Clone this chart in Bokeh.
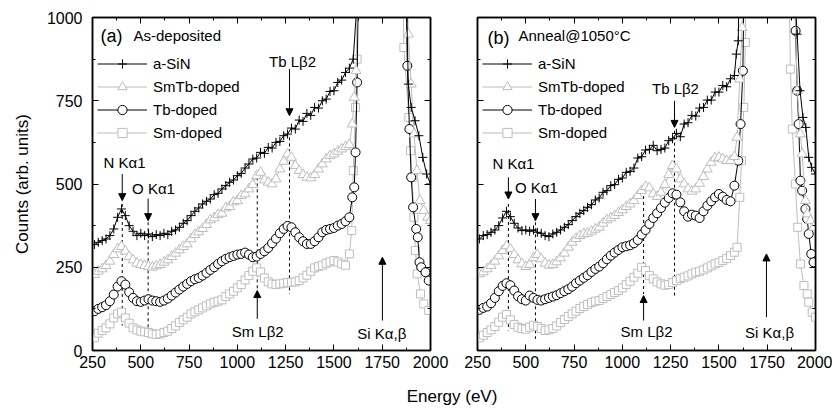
from bokeh.plotting import figure
from bokeh.models import (Range1d, FixedTicker, LinearAxis, CustomJSTickFormatter, Legend,
                          LegendItem, Arrow, NormalHead, ColumnDataSource, Div)
from bokeh.layouts import row, column
from bokeh.core.properties import value
from bokeh.embed import file_html
from bokeh.resources import INLINE

FONT = "Liberation Sans"
GRAY = "#bdbdbd"

# ---------------- data ----------------
energy = [260, 280, 300, 320, 340, 360, 380, 400, 420, 440,
          460, 480, 500, 520, 540, 560, 580, 600, 620, 640,
          660, 680, 700, 720, 740, 760, 780, 800, 820, 840,
          860, 880, 900, 920, 940, 960, 980, 1000, 1020, 1040,
          1060, 1080, 1100, 1120, 1140, 1160, 1180, 1200, 1220, 1240,
          1260, 1280, 1300, 1320, 1340, 1360, 1380, 1400, 1420, 1440,
          1460, 1480, 1500, 1520, 1540, 1560, 1580]

# Panel (a) As-deposited
a_sin = [318, 325, 330, 335, 345, 365, 400, 425, 405, 375,
         358, 345, 352, 345, 350, 342, 348, 345, 352, 348,
         358, 362, 370, 382, 390, 405, 418, 428, 440, 448,
         455, 468, 472, 485, 495, 505, 512, 525, 532, 548,
         560, 575, 578, 595, 592, 610, 608, 625, 628, 645,
         650, 668, 665, 692, 688, 712, 706, 730, 728, 750,
         755, 778, 780, 805, 812, 835, 848]
a_sin_edge_e = [1600, 1620, 1740, 1878, 1885, 1900, 1920, 1940, 1960, 1980, 2000]
a_sin_edge_c = [875, 1050, 6000, 1000, 800, 730, 690, 645, 580, 530, 500]

a_smtb = [228, 238, 245, 255, 268, 288, 305, 312, 298, 282,
          272, 262, 258, 255, 252, 250, 254, 258, 265, 272,
          282, 292, 302, 312, 320, 335, 348, 356, 366, 378,
          392, 398, 408, 412, 428, 432, 446, 450, 465, 470,
          485, 498, 525, 535, 512, 505, 500, 515, 545, 568,
          590, 580, 555, 540, 528, 520, 518, 528, 545, 560,
          575, 585, 590, 598, 605, 612, 618]
a_smtb_edge_e = [1595, 1605, 1615, 1740, 1885, 1900, 1915, 1930, 1945, 1965, 1985, 2000]
a_smtb_edge_c = [680, 760, 840, 6000, 950, 800, 650, 540, 450, 420, 400, 390]

a_tb = [118, 125, 130, 136, 148, 168, 192, 208, 198, 175,
        158, 148, 146, 150, 154, 150, 148, 146, 150, 156,
        165, 174, 183, 192, 200, 208, 214, 218, 225, 233,
        242, 250, 260, 268, 275, 280, 284, 288, 290, 294,
        288, 280, 282, 290, 298, 308, 322, 336, 352, 365,
        374, 370, 355, 340, 328, 320, 320, 328, 340, 355,
        362, 365, 368, 375, 380, 388, 400]
a_tb_edge_e = [1595, 1605, 1612, 1620, 1740, 1880, 1891, 1900, 1910, 1926, 1934, 1943, 1952, 1974, 1991]
a_tb_edge_c = [460, 490, 595, 805, 6000, 855, 665, 520, 430, 365, 340, 265, 250, 235, 210]

a_sm = [38, 52, 60, 68, 80, 98, 110, 115, 98, 82,
        68, 62, 58, 56, 54, 50, 48, 50, 54, 58,
        66, 74, 84, 92, 100, 110, 116, 122, 128, 134,
        140, 145, 148, 152, 162, 170, 178, 188, 198, 212,
        225, 238, 248, 236, 218, 206, 200, 198, 200, 202,
        204, 205, 206, 210, 218, 226, 238, 248, 252, 256,
        262, 266, 270, 266, 260, 256, 290]
a_sm_edge_e = [1592, 1600, 1612, 1620, 1740, 1862, 1888, 1897, 1905, 1914, 1922, 1931, 1948, 1965, 1991]
a_sm_edge_c = [360, 540, 730, 875, 6000, 910, 700, 600, 520, 400, 300, 230, 170, 140, 120]

# Panel (b) Anneal@1050C
b_sin = [335, 345, 348, 355, 362, 375, 398, 418, 402, 382,
         368, 360, 362, 358, 362, 355, 352, 345, 342, 350,
         355, 362, 370, 378, 390, 402, 412, 420, 430, 438,
         452, 458, 475, 480, 495, 498, 514, 518, 535, 538,
         548, 578, 582, 602, 604, 616, 600, 604, 608, 630,
         636, 652, 642, 680, 684, 706, 704, 728, 730, 752,
         752, 776, 776, 796, 792, 816, 826]
b_sin_edge_e = [1590, 1600, 1740, 1891, 1905, 1920, 1935, 1950, 1965, 1980, 2000]
b_sin_edge_c = [890, 930, 6000, 1100, 950, 780, 700, 670, 580, 550, 530]

b_smtb = [230, 236, 245, 255, 268, 284, 300, 314, 305, 288,
          272, 260, 252, 258, 278, 288, 275, 262, 256, 258,
          266, 278, 292, 310, 325, 336, 345, 350, 352, 358,
          364, 370, 382, 392, 398, 405, 414, 422, 432, 440,
          450, 465, 480, 492, 488, 470, 462, 475, 498, 528,
          555, 545, 515, 500, 485, 478, 485, 502, 522, 545,
          565, 578, 580, 575, 570, 570, 582]
b_smtb_edge_e = [1594, 1608, 1620, 1740, 1896, 1905, 1922, 1931, 1948, 1957, 1974, 1990]
b_smtb_edge_c = [640, 815, 970, 6000, 1027, 780, 650, 590, 450, 410, 390, 370]

b_tb = [122, 128, 132, 142, 158, 178, 194, 202, 196, 180,
        163, 154, 150, 165, 158, 152, 150, 154, 158, 162,
        166, 172, 178, 184, 192, 202, 210, 218, 226, 236,
        245, 252, 262, 274, 285, 294, 302, 310, 313, 316,
        322, 332, 348, 362, 380, 398, 412, 428, 444, 458,
        472, 468, 445, 418, 402, 408, 405, 398, 418, 435,
        448, 460, 470, 462, 452, 448, 495]
b_tb_edge_e = [1600, 1612, 1624, 1740, 1897, 1905, 1913, 1922, 1931, 1948, 1957, 1965, 1978, 1990]
b_tb_edge_c = [570, 680, 840, 6000, 960, 780, 680, 510, 480, 425, 395, 350, 290, 265]

b_sm = [38, 46, 54, 62, 72, 85, 100, 108, 92, 78,
        70, 66, 64, 70, 76, 72, 66, 60, 62, 66,
        74, 84, 93, 102, 110, 118, 126, 132, 138, 144,
        148, 150, 156, 162, 168, 174, 180, 188, 198, 208,
        220, 232, 250, 240, 225, 215, 206, 200, 196, 198,
        204, 210, 216, 220, 224, 230, 235, 238, 242, 248,
        254, 260, 264, 270, 276, 285, 295]
b_sm_edge_e = [1594, 1608, 1617, 1629, 1637, 1740, 1870, 1880, 1896, 1908, 1922, 1940, 1957, 1965, 1983, 2000]
b_sm_edge_c = [310, 460, 570, 730, 925, 6000, 845, 665, 500, 370, 260, 195, 170, 145, 115, 100]

series_labels = ["a-SiN", "SmTb-doped", "Tb-doped", "Sm-doped"]

# annotations (energies in eV, counts)
ann_text = ["N K\u03b11", "O K\u03b11", "Tb L\u03b22", "Sm L\u03b22", "Si K\u03b1,\u03b2"]
a_ann_x = [416, 566, 1286, 1105, 1748]
a_ann_y = [565, 486, 868, 57, 50]
a_arr_x = [404, 538, 1270, 1103, 1751]
a_arr_y0 = [530, 456, 845, 95, 90]
a_arr_y1 = [450, 390, 705, 180, 280]
a_dash_x = [404, 538, 1103, 1270]
a_dash_top = [440, 385, 520, 640]
a_dash_bot = [75, 40, 185, 170]

b_ann_x = [436, 555, 1275, 1125, 1762]
b_ann_y = [562, 490, 788, 57, 54]
b_arr_x = [410, 550, 1270, 1110, 1746]
b_arr_y0 = [520, 455, 750, 90, 100]
b_arr_y1 = [455, 390, 670, 165, 290]
b_dash_x = [410, 550, 1110, 1270]
b_dash_top = [440, 385, 500, 660]
b_dash_bot = [60, 35, 170, 165]

x_ticks = [250, 500, 750, 1000, 1250, 1500, 1750, 2000]
x_minor = [375, 625, 875, 1125, 1375, 1625, 1875]
y_ticks = [0, 250, 500, 750, 1000]
y_minor = [125, 375, 625, 875]


def style_axis(ax, ticks, minor, blank=False):
    ax.ticker = FixedTicker(ticks=ticks, minor_ticks=minor)
    ax.major_tick_in = 6
    ax.major_tick_out = 0
    ax.minor_tick_in = 3
    ax.minor_tick_out = 0
    ax.axis_line_width = 1.5
    ax.axis_line_color = "black"
    ax.major_tick_line_color = "black"
    ax.minor_tick_line_color = "black"
    ax.major_label_text_font = FONT
    ax.major_label_text_font_size = "16px"
    ax.major_label_text_font_style = "normal"
    ax.major_label_text_color = "black"
    if blank:
        ax.formatter = CustomJSTickFormatter(code="return ''")
        ax.major_label_standoff = 0


def make_panel(curves, title_tag, title_text, ann_x, ann_y, arr_x, arr_y0, arr_y1,
               dash_x, dash_top, dash_bot, left_border, right_border, first):
    p = figure(x_range=Range1d(250, 2000), y_range=Range1d(0, 1000),
               frame_width=338, frame_height=333,
               min_border_left=left_border, min_border_right=right_border,
               min_border_top=17, min_border_bottom=30,
               output_backend="svg", toolbar_location=None,
               background_fill_color="white", border_fill_color="white")
    p.xgrid.visible = False
    p.ygrid.visible = False
    p.outline_line_color = "black"
    p.outline_line_width = 1.5

    style_axis(p.xaxis[0], x_ticks, x_minor)
    p.xaxis[0].major_label_standoff = 5
    style_axis(p.yaxis[0], y_ticks, y_minor, blank=not first)
    if first:
        p.yaxis[0].major_label_standoff = 10
        p.yaxis[0].axis_label = "Counts (arb. units)"
        p.yaxis[0].axis_label_text_font = FONT
        p.yaxis[0].axis_label_text_font_size = "17px"
        p.yaxis[0].axis_label_text_font_style = "normal"
        p.yaxis[0].axis_label_text_color = "black"
        p.yaxis[0].axis_label_standoff = 12
    top_ax = LinearAxis()
    style_axis(top_ax, x_ticks, x_minor, blank=True)
    p.add_layout(top_ax, "above")
    right_ax = LinearAxis()
    style_axis(right_ax, y_ticks, y_minor, blank=True)
    p.add_layout(right_ax, "right")

    # dashed guide lines
    p.segment(x0="x", y0="top", x1="x", y1="bot", line_dash="3 3", line_color="black",
              line_width=1,
              source=ColumnDataSource(dict(x=dash_x, top=dash_top, bot=dash_bot)))

    styles = {
        "a-SiN": dict(marker="cross", size=9, color="black"),
        "SmTb-doped": dict(marker="triangle", size=10, color=GRAY),
        "Tb-doped": dict(marker="circle", size=9, color="black"),
        "Sm-doped": dict(marker="square", size=8, color=GRAY),
    }
    items = {}
    for label in ["Sm-doped", "Tb-doped", "SmTb-doped", "a-SiN"]:
        xs, ys = curves[label]
        st = styles[label]
        src = ColumnDataSource(dict(x=xs, y=ys))
        rl = p.line("x", "y", source=src, line_color=st["color"], line_width=1)
        rs = p.scatter("x", "y", source=src, marker=st["marker"], size=st["size"],
                       line_color=st["color"], fill_color="white", line_width=1)
        items[label] = LegendItem(label=label, renderers=[rl, rs])

    legend = Legend(items=[items[l] for l in series_labels], location=(5, 206),
                    glyph_width=50, glyph_height=23, label_height=23, spacing=0,
                    padding=0, margin=0, label_standoff=6,
                    label_text_font=FONT, label_text_font_size="15px",
                    label_text_color="black",
                    border_line_color=None, background_fill_alpha=0)
    p.add_layout(legend)

    # titles
    p.text(x=[title_tag[1]], y=[title_tag[2]], text=[title_tag[0]],
           text_font=value(FONT), text_font_size="18px", text_align="left",
           text_baseline="middle", text_color="black", text_font_style="normal")
    p.text(x=[title_text[1]], y=[title_text[2]], text=[title_text[0]],
           text_font=value(FONT), text_font_size="15px", text_align="left",
           text_baseline="middle", text_color="black", text_font_style="normal")

    # peak annotations
    p.text(x="x", y="y", text="t", source=ColumnDataSource(dict(x=ann_x, y=ann_y, t=ann_text)),
           text_font=value(FONT), text_font_size="15px", text_align="center",
           text_baseline="middle", text_color="black", text_font_style="normal")
    p.add_layout(Arrow(end=NormalHead(size=7, fill_color="black", line_color="black"),
                       x_start="x", y_start="y0", x_end="x", y_end="y1",
                       line_color="black", line_width=1,
                       source=ColumnDataSource(dict(x=arr_x, y0=arr_y0, y1=arr_y1))))
    return p


curves_a = {
    "a-SiN": (energy + a_sin_edge_e, a_sin + a_sin_edge_c),
    "SmTb-doped": (energy + a_smtb_edge_e, a_smtb + a_smtb_edge_c),
    "Tb-doped": (energy + a_tb_edge_e, a_tb + a_tb_edge_c),
    "Sm-doped": (energy + a_sm_edge_e, a_sm + a_sm_edge_c),
}
curves_b = {
    "a-SiN": (energy + b_sin_edge_e, b_sin + b_sin_edge_c),
    "SmTb-doped": (energy + b_smtb_edge_e, b_smtb + b_smtb_edge_c),
    "Tb-doped": (energy + b_tb_edge_e, b_tb + b_tb_edge_c),
    "Sm-doped": (energy + b_sm_edge_e, b_sm + b_sm_edge_c),
}

pa = make_panel(curves_a, ("(a)", 291, 943), ("As-deposited", 462, 946),
                a_ann_x, a_ann_y, a_arr_x, a_arr_y0, a_arr_y1,
                a_dash_x, a_dash_top, a_dash_bot, 92, 20, True)
pb = make_panel(curves_b, ("(b)", 302, 937), ("Anneal@1050\u00b0C", 462, 946),
                b_ann_x, b_ann_y, b_arr_x, b_arr_y0, b_arr_y1,
                b_dash_x, b_dash_top, b_dash_bot, 27, 17, False)

xlabel = Div(text="Energy (eV)", width=180, height=22, margin=(5, 0, 0, 362),
             styles={"font-family": FONT, "font-size": "17px", "text-align": "center",
                     "color": "black", "font-weight": "normal"})

layout = column(row(pa, pb), xlabel)
open("out.html", "w").write(file_html(layout, INLINE))
